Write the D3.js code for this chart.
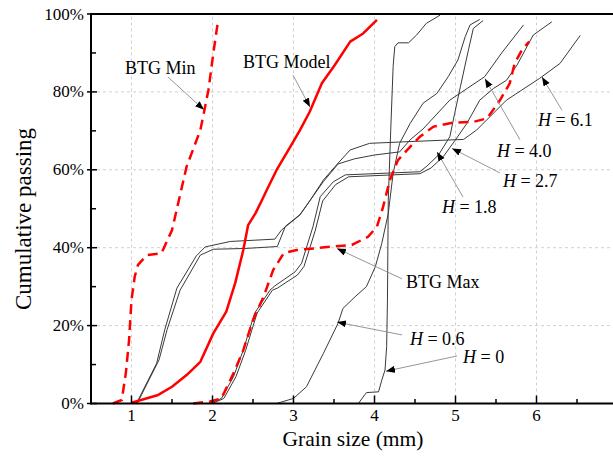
<!DOCTYPE html>
<html><head><meta charset="utf-8">
<script src="https://cdn.jsdelivr.net/npm/d3@7"></script>
<style>
html,body{margin:0;padding:0;background:#fff;}
svg{display:block;}
svg text{font-family:'Liberation Serif','Times New Roman','DejaVu Serif',serif;}
</style></head>
<body><svg id="c" width="613" height="456"></svg>
<script>
// ---- data (grain size mm, cumulative passing %) ----
const btgMinX = [0.77,0.88,0.93,0.97,1.0,1.04,1.08,1.19,1.37,1.5,1.68,1.85,1.9,1.95,2.01,2.07];
const btgMinY = [0,0.9,7.8,16.3,26.6,32.6,35.6,38.1,38.6,44.5,60.8,70.2,75.3,80.5,89.9,98.5];
const btgModelX = [1.0,1.15,1.33,1.5,1.68,1.85,2.01,2.17,2.28,2.38,2.44,2.53,2.61,2.67,2.79,2.96,3.08,3.2,3.35,3.51,3.7,3.86,4.03];
const btgModelY = [0.2,1.1,2.2,4.3,7.3,10.7,18,23.6,30.9,39.4,45.8,48.8,52.2,54.8,59.9,65.9,70.2,74.9,82.2,86.9,92.9,95,98.5];
const btgMaxX = [1.76,1.97,2.11,2.26,2.38,2.5,2.63,2.75,2.88,3.04,3.49,3.72,3.92,4.03,4.1,4.19,4.29,4.44,4.56,4.73,4.97,5.22,5.39,5.55,5.67,5.73,5.82,5.91];
const btgMaxY = [0,0.5,1.3,7.8,13.7,21.4,27.4,34.3,38.6,39.4,40.3,40.7,42.8,45.4,50,57.4,62.5,65.9,68.5,71.1,72.1,72.3,73.2,77.9,82.2,87.3,90.8,92.9];
const h0X = [3.8,3.9,4.05,4.09,4.13,4.15,4.16,4.17,4.2,4.23,4.25,4.29,4.42,4.52,4.64,4.81];
const h0Y = [0,2.8,3.0,6.0,8.6,14.6,26.6,52.2,70,86.5,91.6,92.6,92.6,94.6,97.6,99.7];
const h06X = [2.79,3.0,3.16,3.37,3.55,3.61,3.76,3.9,4.01,4.09,4.17,4.23,4.31,4.44,4.6,4.77,4.91,5.03,5.12,5.18,5.3];
const h06Y = [0,1.3,4.3,12.9,20.6,24.4,27.4,30,35.1,41.1,48.8,59.1,66.8,71.9,77.1,79.6,83.9,88.2,94.2,97.2,98.6];
const h18X = [1.97,2.11,2.26,2.38,2.52,2.71,2.77,3.02,3.1,3.24,3.33,3.49,3.64,4.56,4.65,4.79,4.93,4.99,5.06,5.16,5.22,5.34];
const h18Y = [0,1.3,6.9,13.7,23.2,29.1,30.2,33.8,36,45.4,53.1,56.9,58.7,59.5,61,63.8,68.5,74.5,81.3,90.8,96.3,98.3];
const h27X = [2.0,2.14,2.29,2.41,2.55,2.74,2.8,3.05,3.13,3.27,3.36,3.52,3.68,4.56,4.7,4.85,5.0,5.14,5.3,5.47,5.63,5.76,5.96,6.19];
const h27Y = [0,1.3,6.9,13.7,23.2,29.1,29.6,33,35.2,44.5,52,56.2,58.2,59.0,60.5,63.4,67.7,71.9,77.9,80.9,83,86.9,94.6,98];
const h40X = [1.07,1.34,1.44,1.6,1.85,2.01,2.4,2.8,2.9,3.08,3.2,3.37,3.55,3.75,4.0,4.31,4.44,4.6,4.93,5.36,5.57,5.84];
const h40Y = [0,11.2,19,29.1,38.1,39.6,39.8,40.3,45.5,48.5,52,57,61.5,62.8,63.8,64.6,67.7,70.5,77.9,83.9,90,97.2];
const h61X = [1.06,1.31,1.41,1.56,1.8,1.91,2.22,2.77,2.85,3.08,3.2,3.37,3.55,3.7,3.94,4.5,5.1,5.26,5.63,6.04,6.29,6.54];
const h61Y = [0,10.3,18.9,29.6,37.9,40.2,41.6,42.2,44.5,48.4,52,57.4,61.7,65.1,66.8,67.3,67.8,70.2,77.9,83.5,87.3,94.5];

const xTicks = [1,2,3,4,5,6,7];
const yTicks = [0,20,40,60,80,100];
const yTickLabels = ["0%","20%","40%","60%","80%","100%"];

// annotations in data units: label, text anchor point, arrow from, arrow to
const annLabels = ["BTG Min","BTG Model","BTG Max","0.6","0","1.8","2.7","4.0","6.1"];
const annItalicH = [false,false,false,true,true,true,true,true,true];
const annText = [[0.92,84.6],[2.377,86.1],[4.389,29.65],[4.438,15.0],[5.093,10.5],[4.833,48.9],[5.586,55.6],[5.512,63.3],[6.019,71.2]];
const annFrom = [[1.451,83.8],[2.994,84.3],[4.34,32.0],[4.34,17.6],[5.019,12.2],[5.093,53.0],[5.549,59.2],[5.796,67.7],[6.315,75.3]];
const annTo = [[1.895,75.4],[3.204,76.1],[3.537,39.8],[3.537,20.9],[4.142,8.3],[4.772,64.6],[4.957,65.5],[5.364,83.4],[6.068,83.8]];

const FONT = "'Liberation Serif','Times New Roman','DejaVu Serif',serif";

// ---- chart ----
const svg = d3.select("#c");
const x = d3.scaleLinear().domain([0.5,7]).range([91,617.5]);
const y = d3.scaleLinear().domain([0,100]).range([403.5,14]);

// grid
const grid = svg.append("g").attr("stroke","#d0d0d0").attr("stroke-width",1).attr("stroke-dasharray","3,3");
xTicks.forEach(t=>grid.append("line").attr("x1",x(t)).attr("x2",x(t)).attr("y1",y(0)).attr("y2",y(100)));
yTicks.filter(t=>t>0 && t<100).forEach(t=>grid.append("line").attr("x1",x(0.5)).attr("x2",613).attr("y1",y(t)).attr("y2",y(t)));

// series
const line = d3.line().x(d=>x(d[0])).y(d=>y(d[1]));
const zip = (a,b)=>a.map((v,i)=>[v,b[i]]);
const gray = [[h0X,h0Y],[h06X,h06Y],[h18X,h18Y],[h27X,h27Y],[h40X,h40Y],[h61X,h61Y]];
gray.forEach(([a,b])=>svg.append("path").attr("d",line(zip(a,b))).attr("fill","none")
  .attr("stroke","#3a3a3a").attr("stroke-width",1).attr("stroke-linejoin","round"));
svg.append("path").attr("d",line(zip(btgMinX,btgMinY))).attr("fill","none").attr("stroke","#ff0000")
  .attr("stroke-width",2.5).attr("stroke-dasharray","10,6");
svg.append("path").attr("d",line(zip(btgMaxX,btgMaxY))).attr("fill","none").attr("stroke","#ff0000")
  .attr("stroke-width",2.5).attr("stroke-dasharray","10,6");
svg.append("path").attr("d",line(zip(btgModelX,btgModelY))).attr("fill","none").attr("stroke","#ff0000")
  .attr("stroke-width",2.5).attr("stroke-linejoin","round");

// axes
const ax = svg.append("g").attr("stroke","#000");
ax.append("line").attr("x1",x(0.5)).attr("x2",613).attr("y1",y(0)).attr("y2",y(0)).attr("stroke-width",2);
ax.append("line").attr("x1",x(0.5)).attr("x2",613).attr("y1",y(100)).attr("y2",y(100)).attr("stroke-width",2);
ax.append("line").attr("x1",x(0.5)).attr("x2",x(0.5)).attr("y1",y(0)+1).attr("y2",y(100)-1).attr("stroke-width",2);
const xMinor = d3.range(1.5,7,1);
xTicks.forEach(t=>ax.append("line").attr("x1",x(t)).attr("x2",x(t)).attr("y1",y(0)).attr("y2",y(0)-8).attr("stroke-width",1.5));
xMinor.forEach(t=>ax.append("line").attr("x1",x(t)).attr("x2",x(t)).attr("y1",y(0)).attr("y2",y(0)-4.5).attr("stroke-width",1.5));
yTicks.forEach(t=>ax.append("line").attr("x1",x(0.5)-4).attr("x2",x(0.5)+6).attr("y1",y(t)).attr("y2",y(t)).attr("stroke-width",1.5));
d3.range(10,100,20).forEach(t=>ax.append("line").attr("x1",x(0.5)).attr("x2",x(0.5)+5).attr("y1",y(t)).attr("y2",y(t)).attr("stroke-width",1.5));

const tl = svg.append("g").attr("font-size",17).attr("font-family",FONT).attr("fill","#000");
xTicks.forEach(t=>tl.append("text").attr("x",x(t)).attr("y",421).attr("text-anchor","middle").attr("font-family",FONT).text(t));
yTicks.forEach((t,i)=>tl.append("text").attr("x",84).attr("y",y(t)+5.5).attr("text-anchor","end").attr("font-family",FONT).text(yTickLabels[i]));

svg.append("text").attr("x",353).attr("y",446).attr("text-anchor","middle").attr("font-family",FONT).attr("font-size",21.5).text("Grain size (mm)");
svg.append("text").attr("transform","translate(31,219) rotate(-90)").attr("text-anchor","middle").attr("font-family",FONT).attr("font-size",23).text("Cumulative passing");

// annotations
svg.append("defs").append("marker").attr("id","ah").attr("markerUnits","userSpaceOnUse")
  .attr("markerWidth",10).attr("markerHeight",8).attr("refX",9).attr("refY",3.5).attr("orient","auto")
  .append("path").attr("d","M0,0 L9,3.5 L0,7 Z").attr("fill","#000");
annLabels.forEach((lab,i)=>{
  svg.append("line").attr("x1",x(annFrom[i][0])).attr("y1",y(annFrom[i][1]))
    .attr("x2",x(annTo[i][0])).attr("y2",y(annTo[i][1]))
    .attr("stroke","#8a8a8a").attr("stroke-width",0.9).attr("marker-end","url(#ah)");
  const t = svg.append("text").attr("x",x(annText[i][0])).attr("y",y(annText[i][1])).attr("font-family",FONT).attr("font-size",18);
  if(annItalicH[i]){
    t.append("tspan").attr("font-style","italic").text("H");
    t.append("tspan").text(" = "+lab);
  } else t.text(lab);
});
</script></body></html>
